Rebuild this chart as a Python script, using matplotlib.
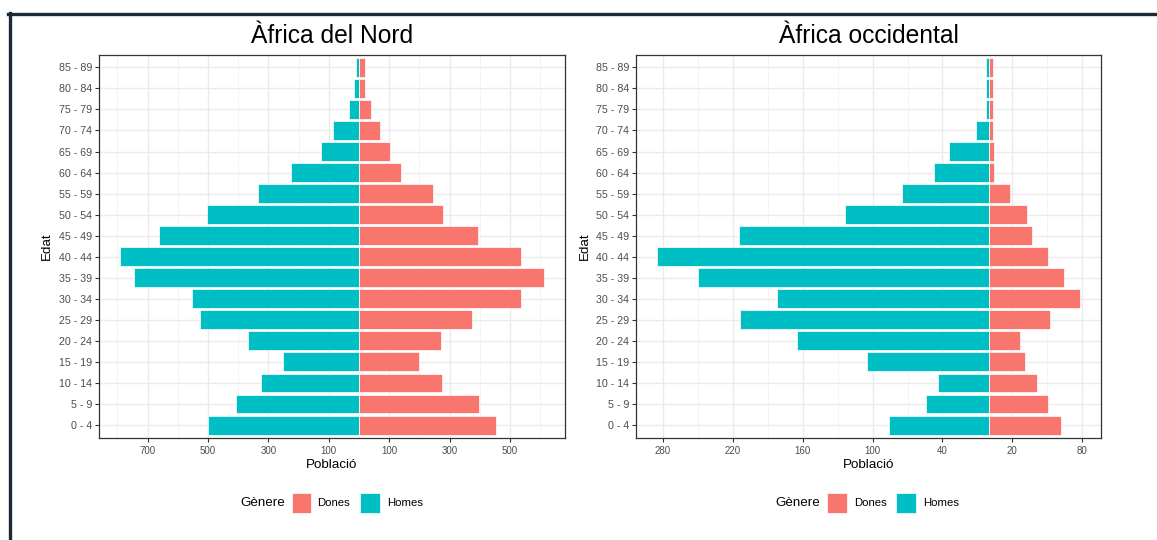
import matplotlib
matplotlib.use("Agg")
import matplotlib.pyplot as plt
from matplotlib.patches import Rectangle
from matplotlib.lines import Line2D
import numpy as np

plt.rcParams['font.family'] = ['Liberation Sans', 'DejaVu Sans']

# ---------------- data ----------------
age_groups = ["0 - 4", "5 - 9", "10 - 14", "15 - 19", "20 - 24", "25 - 29", "30 - 34",
              "35 - 39", "40 - 44", "45 - 49", "50 - 54", "55 - 59", "60 - 64",
              "65 - 69", "70 - 74", "75 - 79", "80 - 84", "85 - 89"]

nord_homes = [499, 406, 323, 251, 369, 526, 552, 744, 791, 662, 505, 336, 224, 125, 87, 34, 15, 9]
nord_dones = [455, 396, 276, 197, 273, 375, 538, 612, 538, 393, 279, 246, 140, 104, 71, 40, 21, 21]

occ_homes = [86, 54, 44, 105, 165, 214, 182, 250, 285, 215, 124, 75, 47, 34, 11, 2.4, 2.4, 2.4]
occ_dones = [61.5, 51, 41, 31, 26.4, 52.7, 78, 64, 50.4, 36.6, 33, 17.8, 4.3, 4.3, 3.4, 3.4, 3.4, 3.4]

nord_breaks = [-700, -500, -300, -100, 100, 300, 500]
nord_minor = [-800, -600, -400, -200, 0, 200, 400, 600]
occ_breaks = [-280, -220, -160, -100, -40, 20, 80]
occ_minor = [-250, -190, -130, -70, -10, 50]

titles = ["Àfrica del Nord", "Àfrica occidental"]
legend_title = "Gènere"
legend_labels = ["Dones", "Homes"]
col_dones = "#F8766D"
col_homes = "#00BFC4"

W, H = 1157, 540
fig = plt.figure(figsize=(W / 100, H / 100), dpi=100)
fig.patch.set_facecolor("white")

def fx(x):
    return x / W

def fy(y):
    return 1 - y / H

# frame lines
fig.add_artist(Line2D([fx(8), fx(W)], [fy(13.5), fy(13.5)], color="#1C2A38", lw=2.4))
fig.add_artist(Line2D([fx(9.8), fx(9.8)], [fy(12.5), fy(H)], color="#1C2A38", lw=2.4))

panels = [
    dict(x0=99, x1=565, homes=nord_homes, dones=nord_dones, breaks=nord_breaks,
         minor=nord_minor, title=titles[0], ylab_x=47,
         leg=dict(title=240, box1=291.5, t1=317.5, box2=360, t2=387.5)),
    dict(x0=636, x1=1101, homes=occ_homes, dones=occ_dones, breaks=occ_breaks,
         minor=occ_minor, title=titles[1], ylab_x=585,
         leg=dict(title=775.5, box1=827, t1=854, box2=896, t2=923.5)),
]

y_top, y_bot = 54.7, 437.7
ypos = np.arange(len(age_groups))

for p in panels:
    ax = fig.add_axes([fx(p["x0"]), fy(y_bot), fx(p["x1"] - p["x0"]), (y_bot - y_top) / H])
    homes = np.array(p["homes"], dtype=float)
    dones = np.array(p["dones"], dtype=float)
    lo, hi = -homes.max(), dones.max()
    rng = hi - lo
    ax.set_xlim(lo - 0.05 * rng, hi + 0.05 * rng)
    ax.set_ylim(-0.6, len(age_groups) - 0.4)

    ax.set_axisbelow(True)
    for m in p["minor"]:
        ax.axvline(m, color="#F2F2F2", lw=0.6, zorder=0)
    for b in p["breaks"]:
        ax.axvline(b, color="#EBEBEB", lw=1.0, zorder=0)
    for yy in ypos:
        ax.axhline(yy, color="#EBEBEB", lw=1.0, zorder=0)

    ax.barh(ypos, -homes, height=0.9, color=col_homes, edgecolor="white", linewidth=0.5, zorder=2)
    ax.barh(ypos, dones, height=0.9, color=col_dones, edgecolor="white", linewidth=0.5, zorder=2)

    ax.set_xticks(p["breaks"])
    ax.set_xticklabels([str(abs(b)) for b in p["breaks"]])
    ax.set_yticks(ypos)
    ax.set_yticklabels(age_groups)
    ax.tick_params(axis="x", labelsize=7, colors="#333333", labelcolor="#4D4D4D",
                   length=2.75, width=0.8, pad=3)
    ax.tick_params(axis="y", labelsize=7.7, colors="#333333", labelcolor="#4D4D4D",
                   length=2.75, width=0.8, pad=2)
    for s in ax.spines.values():
        s.set_color("#333333")
        s.set_linewidth(0.9)

    cx = (p["x0"] + p["x1"]) / 2
    fig.text(fx(cx), fy(36), p["title"], ha="center", va="center", fontsize=17.7, color="black")
    fig.text(fx(cx), fy(465), "Població", ha="center", va="center", fontsize=9.6, color="black")
    fig.text(fx(p["ylab_x"]), fy((y_top + y_bot) / 2), "Edat", ha="center", va="center",
             rotation=90, fontsize=9.6, color="black")

    lg = p["leg"]
    ly = 503
    fig.text(fx(lg["title"]), fy(ly), legend_title, ha="left", va="center", fontsize=9.6)
    for bx, tx, col, lab in [(lg["box1"], lg["t1"], col_dones, legend_labels[0]),
                             (lg["box2"], lg["t2"], col_homes, legend_labels[1])]:
        fig.add_artist(Rectangle((fx(bx), fy(ly + 10)), fx(19.5), 20 / H,
                                 facecolor=col, edgecolor="white", lw=0.5))
        fig.text(fx(tx), fy(ly), lab, ha="left", va="center", fontsize=8.2)

fig.savefig("out.png", dpi=100)
